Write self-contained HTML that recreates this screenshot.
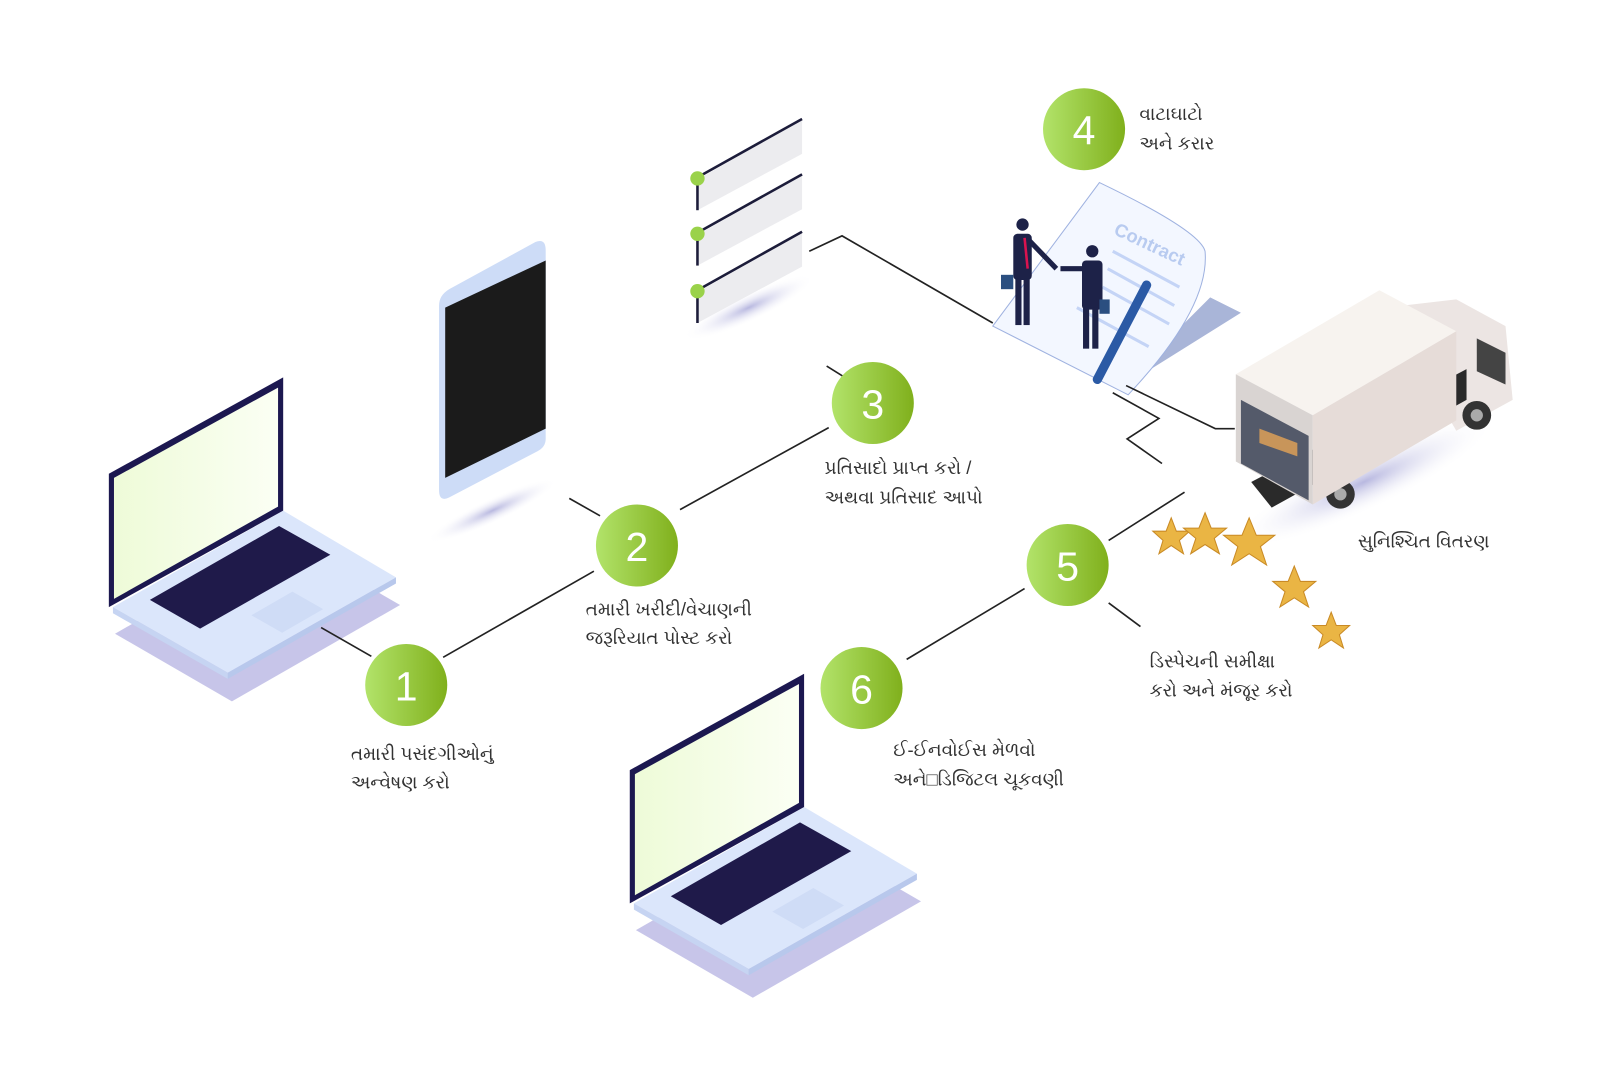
<!DOCTYPE html>
<html><head><meta charset="utf-8"><style>
html,body{margin:0;padding:0;background:#fff;}
svg{display:block}
text{font-family:"Liberation Sans","Noto Sans CJK SC",sans-serif;}
.lb{font-size:18px;fill:#333;}
.num{font-size:40px;fill:#fff;text-anchor:middle;}
.ln{stroke:#222;stroke-width:1.6;fill:none;}
</style></head><body>
<svg width="1600" height="1088" viewBox="0 0 1560 1061" xmlns="http://www.w3.org/2000/svg">
<defs>
<linearGradient id="g" x1="0" y1="0" x2="1" y2="0"><stop offset="0" stop-color="#b2e36a"/><stop offset="1" stop-color="#80b01c"/></linearGradient>
<linearGradient id="scr" x1="0" y1="0" x2="1" y2="0"><stop offset="0" stop-color="#eefbd8"/><stop offset="1" stop-color="#fbfff4"/></linearGradient>
<radialGradient id="sh"><stop offset="0" stop-color="#b8b8e0"/><stop offset="1" stop-color="#fff" stop-opacity="0"/></radialGradient>
<g id="laptop">
 <polygon points="112,600 226,666 390,572 276,506" fill="#b9b6e3" transform="translate(0,18)" opacity="0.8"/>
 <polygon points="110,592 222,656 386,563 276,498" fill="#dbe6fb"/>
 <polygon points="110,592 222,656 222,662 110,598" fill="#c6d4f2"/>
 <polygon points="222,656 386,563 386,569 222,662" fill="#b8c8ec"/>
 <polygon points="146,585 195,613 322,541 272,513" fill="#1f1a4a"/>
 <polygon points="245,600 275,617 315,594 285,577" fill="#cfdcf6"/>
 <polygon points="106,462 276,368 276,498 106,592" fill="#1c1850"/>
 <polygon points="111,466 271,378 271,494 111,584" fill="url(#scr)"/>
</g>
</defs>
<rect width="1560" height="1061" fill="#fff"/>

<!-- laptops -->
<use href="#laptop"/>
<use href="#laptop" transform="translate(508,289)"/>

<!-- phone -->
<ellipse cx="480" cy="498" rx="70" ry="12" fill="url(#sh)" transform="rotate(-25 480 498)"/>
<path d="M438,282 L522,236 Q532,232 532,244 L532,428 Q532,436 524,440 L438,485 Q428,490 428,478 L428,298 Q428,288 438,282Z" fill="#cddcf7"/>
<polygon points="434,300 532,254 532,418 434,466" fill="#1b1b1b"/>

<!-- checklist -->
<g>
 <ellipse cx="730" cy="300" rx="70" ry="14" fill="url(#sh)" transform="rotate(-25 730 300)"/>
 <g id="row"><polygon points="680,175 782,117 782,150 680,205" fill="#ececef"/><line x1="680" y1="173" x2="782" y2="116" stroke="#1c1c3a" stroke-width="2.5"/><line x1="680" y1="173" x2="680" y2="205" stroke="#1c1c3a" stroke-width="2.5"/><circle cx="680" cy="174" r="7" fill="#9ad24a"/></g>
 <use href="#row" transform="translate(0,54)"/>
 <use href="#row" transform="translate(0,110)"/>
</g>

<!-- contract -->
<polygon points="1090,380 1210,305 1180,290 1100,370" fill="#a9b5d8"/>
<path d="M968,318 L1072,178 Q1170,225 1175,245 Q1180,300 1100,385 Z" fill="#f3f7ff" stroke="#9fb2e0" stroke-width="1"/>
<text x="1085" y="228" font-size="18" fill="#b8cbf0" font-weight="bold" transform="rotate(25 1085 228)">Contract</text>
<g stroke="#c4d4f6" stroke-width="3">
<line x1="1085" y1="245" x2="1150" y2="280"/><line x1="1080" y1="262" x2="1145" y2="298"/><line x1="1075" y1="280" x2="1140" y2="316"/><line x1="1050" y1="300" x2="1120" y2="338"/>
</g>
<line x1="1070" y1="370" x2="1118" y2="278" stroke="#2b5aa5" stroke-width="9" stroke-linecap="round"/>
<!-- people -->
<g fill="#1d2248">
<circle cx="997" cy="219" r="6"/><rect x="988" y="228" width="18" height="45" rx="4"/><rect x="990" y="272" width="6" height="45"/><rect x="998" y="272" width="6" height="45"/>
<line x1="1004" y1="235" x2="1030" y2="262" stroke="#1d2248" stroke-width="5"/>
<rect x="976" y="268" width="12" height="14" fill="#2b4f80"/>
<circle cx="1065" cy="245" r="6"/><rect x="1055" y="254" width="20" height="48" rx="4"/><rect x="1056" y="300" width="6" height="40"/><rect x="1065" y="300" width="6" height="40"/>
<line x1="1058" y1="262" x2="1034" y2="262" stroke="#1d2248" stroke-width="5"/>
<rect x="1072" y="292" width="10" height="14" fill="#2b4f80"/>
</g>
<line x1="999" y1="232" x2="1002" y2="262" stroke="#d9134f" stroke-width="2.5"/>

<!-- truck -->
<ellipse cx="1330" cy="470" rx="140" ry="28" fill="url(#sh)" transform="rotate(-25 1330 470)"/>
<polygon points="1350,300 1420,292 1468,318 1475,390 1420,420" fill="#ece5e3"/>
<polygon points="1440,330 1468,344 1468,375 1440,362" fill="#444"/>
<polygon points="1220,470 1430,360 1430,390 1240,495" fill="#2a2a2a"/>
<circle cx="1307" cy="482" r="14" fill="#333"/><circle cx="1307" cy="482" r="6" fill="#aaa"/>
<circle cx="1440" cy="405" r="14" fill="#333"/><circle cx="1440" cy="405" r="6" fill="#aaa"/>
<polygon points="1205,365 1345,283 1420,323 1280,405" fill="#f7f3ef"/>
<polygon points="1280,405 1420,323 1420,410 1280,492" fill="#e6dcd8"/>
<polygon points="1205,365 1280,405 1280,492 1205,450" fill="#d9d4d2"/>
<polygon points="1210,390 1276,425 1276,488 1210,452" fill="#545a6a"/>
<polygon points="1228,418 1265,432 1265,445 1228,432" fill="#c8955a"/>

<!-- stars -->
<g fill="#eab544" stroke="#c98a25" stroke-width="1">
<polygon points="1142,505 1147,518 1160,518 1150,527 1154,540 1142,532 1130,540 1134,527 1124,518 1137,518"/>
<polygon points="1175,500 1181,515 1196,515 1184,525 1189,540 1175,531 1161,540 1166,525 1154,515 1169,515"/>
<polygon points="1218,505 1225,522 1243,522 1229,533 1235,551 1218,540 1201,551 1207,533 1193,522 1211,522"/>
<polygon points="1262,552 1268,567 1283,567 1271,577 1276,592 1262,583 1248,592 1253,577 1241,567 1256,567"/>
<polygon points="1298,597 1303,610 1316,610 1306,619 1310,632 1298,624 1286,632 1290,619 1280,610 1293,610"/>
</g>

<!-- connectors -->
<polyline class="ln" points="313,612 362,640"/>
<polyline class="ln" points="432,641 579,557"/>
<polyline class="ln" points="555,486 585,503"/>
<polyline class="ln" points="663,497 808,417"/>
<polyline class="ln" points="806,357 822,367"/>
<polyline class="ln" points="789,245 821,230 968,315"/>
<polyline class="ln" points="1098,376 1185,418 1204,418"/>
<polyline class="ln" points="1085,383 1130,408 1099,428 1133,452"/>
<polyline class="ln" points="1081,527 1155,480"/>
<polyline class="ln" points="1081,588 1112,611"/>
<polyline class="ln" points="999,574 884,643"/>

<!-- circles -->
<g>
<circle cx="396" cy="668" r="40" fill="url(#g)"/><text class="num" x="396" y="683">1</text>
<circle cx="621" cy="532" r="40" fill="url(#g)"/><text class="num" x="621" y="547">2</text>
<circle cx="851" cy="393" r="40" fill="url(#g)"/><text class="num" x="851" y="408">3</text>
<circle cx="1057" cy="126" r="40" fill="url(#g)"/><text class="num" x="1057" y="141">4</text>
<circle cx="1041" cy="551" r="40" fill="url(#g)"/><text class="num" x="1041" y="566">5</text>
<circle cx="840" cy="671" r="40" fill="url(#g)"/><text class="num" x="840" y="686">6</text>
</g>

<!-- labels -->
<g class="lb">
<text x="342" y="741">તમારી પસંદગીઓનું</text><text x="342" y="769">અન્વેષણ કરો</text>
<text x="571" y="600">તમારી ખરીદી/વેચાણની</text><text x="571" y="628">જરૂરિયાત પોસ્ટ કરો</text>
<text x="804" y="462">પ્રતિસાદો પ્રાપ્ત કરો /</text><text x="804" y="491">અથવા પ્રતિસાદ આપો</text>
<text x="1111" y="117">વાટાઘાટો</text><text x="1111" y="146">અને કરાર</text>
<text x="1324" y="534">સુનિશ્ચિત વિતરણ</text>
<text x="1121" y="651">ડિસ્પેચની સમીક્ષા</text><text x="1121" y="679">કરો અને મંજૂર કરો</text>
<text x="871" y="737">ઈ-ઈનવોઈસ મેળવો</text><text x="871" y="766">અને□ડિજિટલ ચૂકવણી</text>
</g>
</svg>
</body></html>
